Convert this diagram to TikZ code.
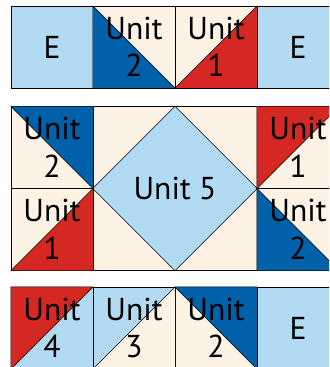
\documentclass[tikz,border=0pt]{standalone}
\usepackage{fontspec}
\setmainfont{PT Sans}
\definecolor{paleblue}{RGB}{178,218,242}
\definecolor{cream}{RGB}{254,242,228}
\definecolor{deepblue}{RGB}{0,96,170}
\definecolor{quiltred}{RGB}{213,40,34}
\begin{document}
\begin{tikzpicture}[x=0.03cm, y=-0.03cm,
  cell/.style={draw, minimum size=2.46cm, inner sep=0pt, fill=#1},
  tri/.style={fill=#1, draw, line join=round},
  lbl/.style={font=\fontsize{27}{32}\selectfont, align=center, inner sep=0pt}
]
\useasboundingbox (0,0) rectangle (329,367);
\clip (0,0) rectangle (329,367);

% ======= top row =======
\node[cell=paleblue] (t1) at (52,47) {};
\node[cell=cream]    (t2) at (134,47) {};
\node[cell=cream]    (t3) at (216,47) {};
\node[cell=paleblue] (t4) at (298,47) {};
\draw[tri=deepblue] (t2.north west) -- (t2.south west) -- (t2.south east) -- cycle;
\draw[tri=quiltred] (t3.south west) -- (t3.south east) -- (t3.north east) -- cycle;

% ======= middle block =======
\node[cell=cream] (ml1) at (52,147.5) {};
\node[cell=cream] (ml2) at (52,229.5) {};
\node[cell=cream] (mr1) at (298,147.5) {};
\node[cell=cream] (mr2) at (298,229.5) {};
\node[draw, fill=cream, minimum width=4.92cm, minimum height=4.92cm, inner sep=0pt] (m5) at (175,188.5) {};
\draw[tri=paleblue] (m5.north) -- (m5.east) -- (m5.south) -- (m5.west) -- cycle;
\draw[tri=deepblue] (ml1.north west) -- (ml1.north east) -- (ml1.south east) -- cycle;
\draw[tri=quiltred] (ml2.south west) -- (ml2.south east) -- (ml2.north east) -- cycle;
\draw[tri=quiltred] (mr1.north west) -- (mr1.north east) -- (mr1.south west) -- cycle;
\draw[tri=deepblue] (mr2.north west) -- (mr2.south west) -- (mr2.south east) -- cycle;

% ======= bottom row =======
\node[cell=paleblue] (b1) at (52,328) {};
\node[cell=paleblue] (b2) at (134,328) {};
\node[cell=cream]    (b3) at (216,328) {};
\node[cell=paleblue] (b4) at (298,328) {};
\draw[tri=quiltred] (b1.north west) -- (b1.north east) -- (b1.south west) -- cycle;
\draw[tri=cream]    (b2.south west) -- (b2.north east) -- (b2.south east) -- cycle;
\draw[tri=deepblue] (b3.north west) -- (b3.north east) -- (b3.south east) -- cycle;

% ======= labels =======
\node[lbl] (lt1) at (t1) {E};
\node[lbl] (lt2) at (t2) {Unit\\2};
\node[lbl] (lt3) at (t3) {Unit\\1};
\node[lbl] (lt4) at (t4) {E};
\node[lbl] (lml1) at (ml1) {Unit\\2};
\node[lbl] (lml2) at (ml2) {Unit\\1};
\node[lbl] (lm5) at (m5) {Unit 5};
\node[lbl] (lmr1) at (mr1) {Unit\\1};
\node[lbl] (lmr2) at (mr2) {Unit\\2};
\node[lbl] (lb1) at (b1) {Unit\\4};
\node[lbl] (lb2) at (b2) {Unit\\3};
\node[lbl] (lb3) at (b3) {Unit\\2};
\node[lbl] (lb4) at (b4) {E};

\end{tikzpicture}
\end{document}
